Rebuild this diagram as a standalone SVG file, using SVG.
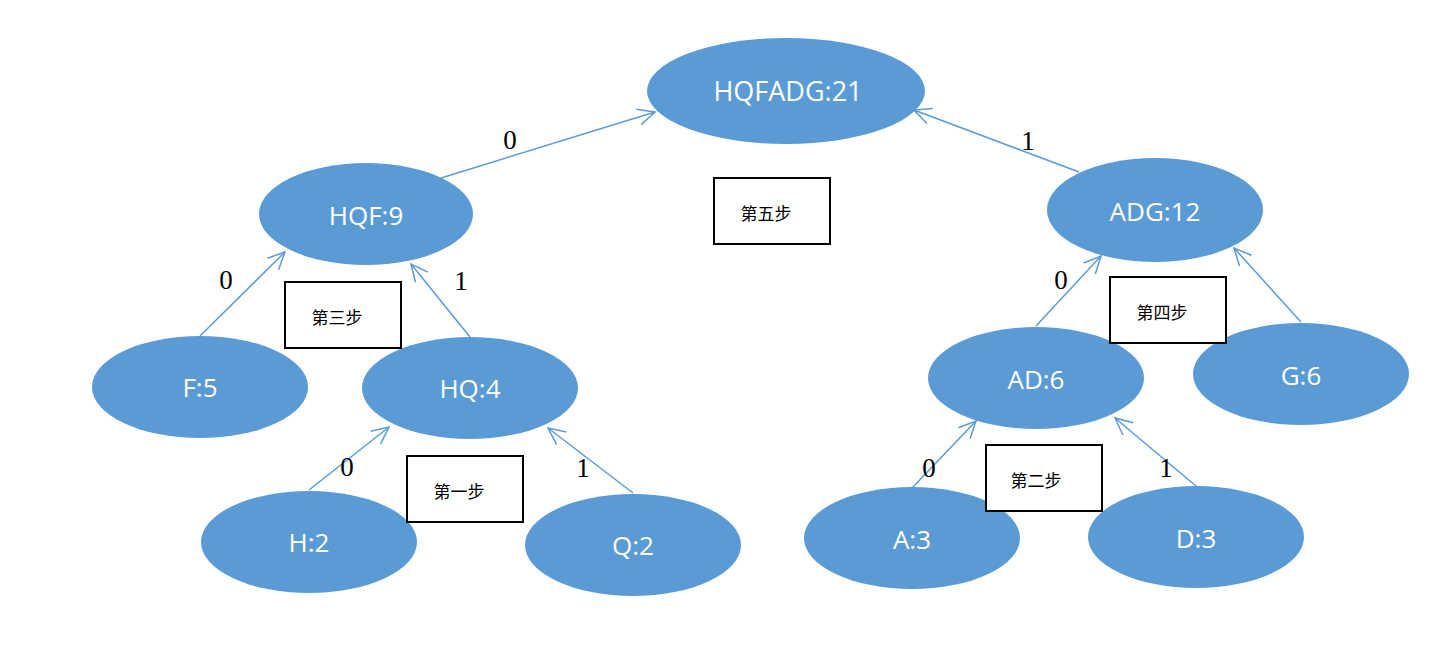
<svg xmlns="http://www.w3.org/2000/svg" width="1451" height="652" viewBox="0 0 1451 652">
<style>
.n{fill:#5b9bd5}
.t{fill:#fff;font-family:"Open Sans","Noto Sans",sans-serif;font-size:26px;text-anchor:middle;dominant-baseline:central}
.e{stroke:#5b9bd5;stroke-width:1.5;fill:none;marker-end:url(#a)}
.l{font-family:"Liberation Serif",serif;font-size:27px;fill:#000;text-anchor:middle;dominant-baseline:central}
.b{fill:#fff;stroke:#000;stroke-width:2}
.bt{font-family:"Noto Sans CJK SC",sans-serif;font-size:17px;fill:#000;text-anchor:middle;dominant-baseline:central}
</style>
<defs>
<marker id="a" viewBox="0 0 20 20" refX="19" refY="10" markerWidth="20" markerHeight="20" markerUnits="userSpaceOnUse" orient="auto">
<path d="M2,2 L19,10 L2,18" fill="none" stroke="#5b9bd5" stroke-width="1.5"/>
</marker>
</defs>
<rect width="1451" height="652" fill="#fff"/>
<g id="connectors">
<line class="e" x1="441" y1="178" x2="655" y2="112"/>
<line class="e" x1="1079" y1="172" x2="914" y2="110"/>
<line class="e" x1="200" y1="336" x2="285" y2="252"/>
<line class="e" x1="470" y1="337" x2="411" y2="264"/>
<line class="e" x1="309" y1="490" x2="389" y2="427"/>
<line class="e" x1="633" y1="493" x2="548" y2="428"/>
<line class="e" x1="1036" y1="326" x2="1101" y2="256"/>
<line class="e" x1="1301" y1="322" x2="1234" y2="248"/>
<line class="e" x1="912" y1="488" x2="976" y2="421"/>
<line class="e" x1="1196" y1="486" x2="1115" y2="418"/>
<text class="l" x="510" y="140">0</text>
<text class="l" x="1028" y="141">1</text>
<text class="l" x="226" y="280">0</text>
<text class="l" x="461" y="281">1</text>
<text class="l" x="347" y="467">0</text>
<text class="l" x="583" y="468">1</text>
<text class="l" x="1061" y="280">0</text>
<text class="l" x="929" y="468">0</text>
<text class="l" x="1166" y="468">1</text>
</g>
<g id="n-root"><ellipse class="n" cx="786" cy="91" rx="139" ry="53"/><text class="t" x="788" y="90" style="font-size:27px">HQFADG:21</text></g>
<g id="n-hqf"><ellipse class="n" cx="366" cy="214" rx="107" ry="51"/><text class="t" x="366" y="215">HQF:9</text></g>
<g id="n-adg"><ellipse class="n" cx="1155" cy="210" rx="108" ry="52"/><text class="t" x="1155" y="211">ADG:12</text></g>
<g id="n-f"><ellipse class="n" cx="200" cy="387" rx="108" ry="51"/><text class="t" x="200" y="387">F:5</text></g>
<g id="n-hq"><ellipse class="n" cx="470" cy="388" rx="108" ry="51"/><text class="t" x="470" y="388">HQ:4</text></g>
<g id="n-ad"><ellipse class="n" cx="1036" cy="378" rx="108" ry="51"/><text class="t" x="1036" y="379">AD:6</text></g>
<g id="n-g"><ellipse class="n" cx="1301" cy="374" rx="108" ry="51"/><text class="t" x="1301" y="375">G:6</text></g>
<g id="n-h"><ellipse class="n" cx="309" cy="542" rx="108" ry="51"/><text class="t" x="309" y="542">H:2</text></g>
<g id="n-q"><ellipse class="n" cx="633" cy="545" rx="108" ry="51"/><text class="t" x="633" y="545">Q:2</text></g>
<g id="n-a"><ellipse class="n" cx="912" cy="538" rx="108" ry="51"/><text class="t" x="912" y="539">A:3</text></g>
<g id="n-d"><ellipse class="n" cx="1196" cy="537" rx="108" ry="51"/><text class="t" x="1196" y="538">D:3</text></g>
<g id="b5"><rect class="b" x="714" y="178" width="116" height="66"/><text class="bt" x="766" y="212">第五步</text></g>
<g id="b3"><rect class="b" x="285" y="282" width="116" height="66"/><text class="bt" x="337" y="316">第三步</text></g>
<g id="b4"><rect class="b" x="1110" y="277" width="116" height="66"/><text class="bt" x="1162" y="311">第四步</text></g>
<g id="b1"><rect class="b" x="407" y="456" width="116" height="66"/><text class="bt" x="459" y="490">第一步</text></g>
<g id="b2"><rect class="b" x="986" y="445" width="116" height="66"/><text class="bt" x="1036" y="479">第二步</text></g>
</svg>
